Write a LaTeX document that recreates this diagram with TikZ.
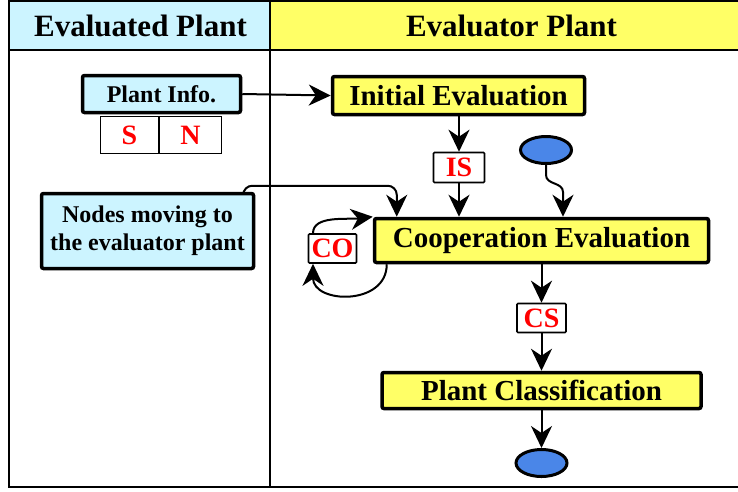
\documentclass[tikz,border=0pt]{standalone}
\usepackage{fontspec}
\setmainfont{Liberation Serif}
\usepackage{tikz}
\usetikzlibrary{calc,arrows.meta,shapes.geometric}

\definecolor{plantcyan}{HTML}{CCF4FF}
\definecolor{plantyellow}{HTML}{FFFF66}
\definecolor{stateblue}{HTML}{4A86E8}

\begin{document}
\begin{tikzpicture}[x=1pt,y=-1pt,
  stage/.style={draw,line width=3.5pt,rounded corners=2pt,fill=plantyellow,inner sep=0pt,
    font=\bfseries\fontsize{29}{31}\selectfont},
  info/.style={draw,line width=3.5pt,rounded corners=2pt,fill=plantcyan,inner sep=0pt,align=center,
    font=\bfseries\fontsize{24}{28}\selectfont},
  tag/.style={draw,line width=1.6pt,rounded corners=1pt,fill=white,text=red,inner sep=0pt,
    font=\bfseries\fontsize{28}{30}\selectfont},
  state/.style={ellipse,draw,line width=3pt,fill=stateblue,minimum width=51pt,minimum height=27pt,inner sep=0pt},
  flow/.style={line width=2pt,-{Stealth[length=22pt,width=21pt,inset=7pt]}},
  frame/.style={line width=2.5pt}]
\useasboundingbox (0,0) rectangle (738,491);

% header and lanes
\fill[plantcyan] (9,1) rectangle (270,50);
\fill[plantyellow] (270,1) rectangle (760,50);
\draw[frame] (9,1) rectangle (760,487);
\draw[frame] (9,50) -- (760,50);
\draw[frame] (270,1) -- (270,487);
\node[font=\bfseries\fontsize{31}{33}\selectfont] (evaluated) at (140.5,26) {Evaluated Plant};
\node[font=\bfseries\fontsize{31}{33}\selectfont] (evaluator) at (511.5,26) {Evaluator Plant};

% evaluated plant
\node[info,minimum width=158pt,minimum height=37pt] (plantinfo) at (161.5,94) {Plant Info.};
\node[tag,minimum width=58pt,minimum height=37pt,rounded corners=0pt] (s) at (129.5,135) {S};
\node[tag,minimum width=62pt,minimum height=37pt,rounded corners=0pt] (n) at (190.5,135) {N};
\node[info,minimum width=212pt,minimum height=75pt] (moving) at (147.5,231)
  {Nodes moving to\\the evaluator plant};

% evaluator plant
\node[stage,minimum width=252pt,minimum height=38pt] (initial) at (458.5,95.5) {Initial Evaluation};
\node[tag,minimum width=51pt,minimum height=30pt] (is) at (459,167.5) {IS};
\node[state] (start) at (546,150) {};
\node[stage,minimum width=334pt,minimum height=44pt] (coop) at (541.5,240.5) {Cooperation Evaluation};
\node[tag,minimum width=48pt,minimum height=29pt] (co) at (332.5,248.5) {CO};
\node[tag,minimum width=49pt,minimum height=29pt] (cs) at (541.5,318) {CS};
\node[stage,minimum width=319pt,minimum height=36pt] (class) at (541.5,390.5) {Plant Classification};
\node[state] (end) at (541.5,463) {};

\draw[flow] (plantinfo.east) -- (initial.west);
\draw[flow] (initial.south -| is) -- (is.north);
\draw[flow] (is.south) -- (is.south |- coop.north);
\draw[flow] (start.south) -- ++(0,10) .. controls +(0,10) and +(0,-10) .. ++(17,17)
  -- ([xshift=21.5pt]coop.north);
\draw[flow,rounded corners=9pt] ([xshift=-12pt]moving.north east) -- ++(0,-6)
  -| ([xshift=24pt]coop.north west);
\draw[flow] ([xshift=-19.5pt]co.north) .. controls +(0,-18) and +(-26,3) .. (coop.north west);
\draw[flow] ([xshift=14pt]coop.south west) .. controls +(0,42) and +(0,40) .. ([xshift=-19.5pt]co.south);
\draw[flow] (coop.south) -- (cs.north);
\draw[flow] (cs.south) -- (class.north);
\draw[flow] (class.south) -- (end.north);
\end{tikzpicture}
\end{document}
